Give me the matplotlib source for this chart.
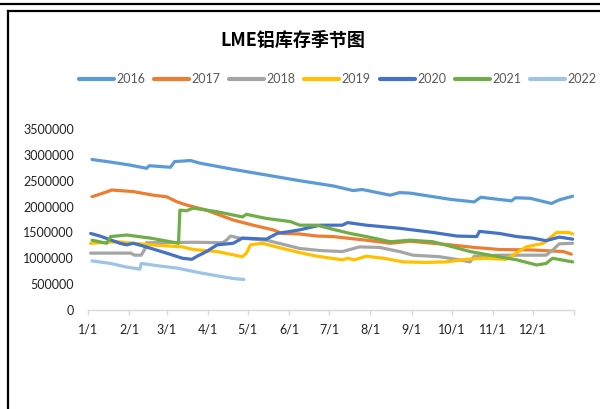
import matplotlib
matplotlib.use("Agg")
import matplotlib.pyplot as plt
from matplotlib.lines import Line2D

plt.rcParams['font.family'] = ['Lato', 'Noto Sans CJK SC', 'DejaVu Sans']

title = "LME铝库存季节图"
month_labels = ["1/1", "2/1", "3/1", "4/1", "5/1", "6/1", "7/1", "8/1", "9/1", "10/1", "11/1", "12/1"]
month_days = [0, 31, 59, 90, 120, 151, 181, 212, 243, 273, 304, 334]
y_ticks = [0, 500000, 1000000, 1500000, 2000000, 2500000, 3000000, 3500000]

years = ["2016", "2017", "2018", "2019", "2020", "2021", "2022"]
colors = ["#5B9BD5", "#ED7D31", "#A5A5A5", "#FFC000", "#4472C4", "#70AD47", "#9DC3E6"]

# day of year (0 = Jan 1) and stock in million tonnes
d2016 = [3, 17, 32, 44, 46, 62, 65, 77, 84, 109, 134, 159, 184, 199, 206, 227, 234, 242, 272, 290, 295, 318, 321, 332, 348, 354, 364]
v2016 = [2.91, 2.86, 2.80, 2.74, 2.79, 2.76, 2.87, 2.89, 2.84, 2.72, 2.61, 2.50, 2.40, 2.31, 2.33, 2.22, 2.27, 2.26, 2.14, 2.09, 2.18, 2.11, 2.17, 2.16, 2.06, 2.13, 2.20]

d2017 = [3, 9, 18, 34, 49, 59, 67, 74, 89, 109, 124, 139, 146, 159, 172, 184, 209, 227, 242, 272, 290, 309, 334, 357, 363]
v2017 = [2.19, 2.24, 2.32, 2.29, 2.22, 2.19, 2.09, 2.03, 1.93, 1.74, 1.64, 1.55, 1.48, 1.47, 1.43, 1.42, 1.35, 1.29, 1.33, 1.26, 1.21, 1.17, 1.16, 1.13, 1.08]

d2018 = [2, 32, 35, 40, 43, 44, 80, 101, 104, 107, 114, 134, 159, 174, 191, 204, 219, 234, 244, 264, 279, 287, 290, 309, 334, 344, 349, 354, 364]
v2018 = [1.10, 1.10, 1.06, 1.06, 1.19, 1.30, 1.31, 1.30, 1.35, 1.43, 1.39, 1.35, 1.19, 1.15, 1.13, 1.22, 1.21, 1.13, 1.06, 1.03, 0.97, 0.93, 1.04, 1.06, 1.06, 1.06, 1.16, 1.28, 1.29]

d2019 = [2, 22, 47, 71, 79, 97, 116, 119, 122, 131, 146, 159, 172, 191, 195, 200, 209, 222, 237, 254, 269, 284, 297, 314, 319, 329, 342, 352, 361, 364]
v2019 = [1.29, 1.32, 1.26, 1.22, 1.17, 1.13, 1.03, 1.10, 1.26, 1.29, 1.19, 1.11, 1.04, 0.97, 1.00, 0.97, 1.04, 1.00, 0.93, 0.92, 0.93, 0.98, 1.00, 0.98, 1.06, 1.22, 1.29, 1.50, 1.50, 1.47]

d2020 = [2, 9, 24, 29, 34, 41, 59, 71, 78, 82, 89, 97, 109, 116, 134, 142, 152, 159, 174, 191, 195, 209, 234, 259, 277, 292, 294, 309, 322, 334, 344, 354, 364]
v2020 = [1.48, 1.43, 1.29, 1.26, 1.29, 1.24, 1.10, 1.00, 0.98, 1.04, 1.13, 1.26, 1.29, 1.39, 1.37, 1.48, 1.52, 1.55, 1.64, 1.64, 1.69, 1.64, 1.58, 1.50, 1.43, 1.42, 1.52, 1.48, 1.42, 1.39, 1.34, 1.41, 1.37]

d2021 = [3, 14, 17, 29, 47, 68, 69, 74, 79, 97, 116, 119, 134, 152, 159, 172, 184, 197, 209, 227, 242, 259, 274, 287, 302, 322, 337, 344, 349, 364]
v2021 = [1.35, 1.29, 1.42, 1.45, 1.39, 1.29, 1.93, 1.92, 1.97, 1.90, 1.80, 1.85, 1.77, 1.71, 1.64, 1.64, 1.56, 1.48, 1.42, 1.32, 1.35, 1.32, 1.22, 1.13, 1.06, 0.97, 0.87, 0.90, 1.00, 0.93]

d2022 = [3, 17, 29, 39, 40, 54, 67, 84, 97, 109, 117]
v2022 = [0.95, 0.90, 0.83, 0.79, 0.90, 0.85, 0.81, 0.72, 0.66, 0.61, 0.59]

series = [(d2016, v2016), (d2017, v2017), (d2018, v2018), (d2019, v2019),
          (d2020, v2020), (d2021, v2021), (d2022, v2022)]

W, H = 600, 409
fig = plt.figure(figsize=(W / 100, H / 100), dpi=100)
fig.patch.set_facecolor("white")

ax = fig.add_axes([88 / W, 1 - 310 / H, (574 - 88) / W, (310 - 129) / H])

handles = []
for (d, v), c, yr in zip(series, colors, years):
    ax.plot(d, [x * 1e6 for x in v], color=c, lw=2.3, solid_capstyle="round",
            solid_joinstyle="round")
    handles.append(Line2D([0], [0], color=c, lw=3, solid_capstyle="round"))

ax.set_xlim(0, 365)
ax.set_ylim(0, 3500000)
ax.set_xticks(month_days + [365], labels=month_labels + [""])
ax.set_yticks(y_ticks, labels=[str(t) for t in y_ticks])
for s in ["top", "right", "left"]:
    ax.spines[s].set_visible(False)
ax.spines["bottom"].set_color("#D9D9D9")
ax.spines["bottom"].set_linewidth(1.0)
ax.tick_params(axis="x", direction="out", length=3.5, color="#D9D9D9", width=1,
               labelsize=9, labelcolor="#222222", pad=6)
ax.tick_params(axis="y", length=0, labelsize=9, labelcolor="#222222", pad=10)
ax.set_facecolor("none")

fig.text(293 / W, 1 - 40 / H, title, ha="center", va="center", fontsize=13,
         fontweight="bold", family=["Noto Sans CJK SC", "DejaVu Sans"], color="black")

fig.legend(handles, years, loc="center", bbox_to_anchor=(337.5 / W, 1 - 79 / H),
           ncol=7, frameon=False, handlelength=2.8, handletextpad=0.2,
           columnspacing=0.7, prop={"family": "Lato", "size": 9},
           labelcolor="#595959")

# outer frame lines
fig.add_artist(Line2D([0, 1], [1 - 3.5 / H, 1 - 3.5 / H], transform=fig.transFigure,
                      color="black", lw=1.6))
fig.add_artist(Line2D([8 / W, 1], [1 - 11 / H, 1 - 11 / H], transform=fig.transFigure,
                      color="black", lw=1.6))
fig.add_artist(Line2D([8 / W, 8 / W], [0, 1 - 11 / H], transform=fig.transFigure,
                      color="black", lw=1.6))

fig.savefig("out.png", dpi=100)
